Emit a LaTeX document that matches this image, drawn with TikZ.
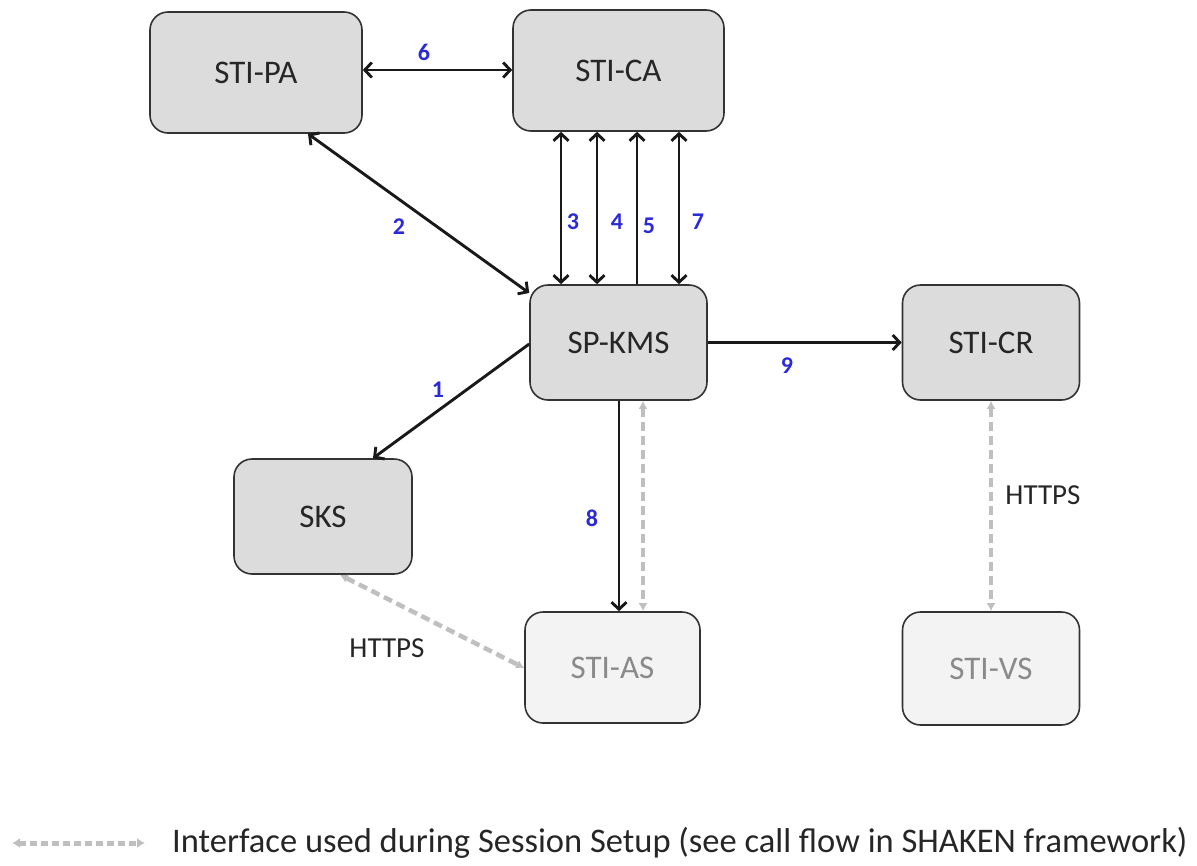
\documentclass[tikz,border=0pt]{standalone}
\usepackage{fontspec}
\setmainfont{Carlito}
\usetikzlibrary{arrows.meta}
\definecolor{boxfill}{HTML}{DCDCDC}
\definecolor{lightfill}{HTML}{F3F3F3}
\definecolor{boxline}{HTML}{333333}
\definecolor{lighttext}{HTML}{8A8A8A}
\definecolor{dashgray}{HTML}{BFBFBF}
\definecolor{numblue}{HTML}{2A2AD8}
\tikzset{
  mainbox/.style={draw=boxline, line width=1.6pt, fill=boxfill, rounded corners=18pt,
    inner sep=0pt, font=\fontsize{33}{36}\selectfont, text=black!85},
  lightbox/.style={mainbox, fill=lightfill, text=lighttext},
  blackarrow/.style={line width=2.9pt, draw=black!90},
  bothtips/.style={{Straight Barb[length=7pt,width=15pt,line width=2.9pt]}-{Straight Barb[length=7pt,width=15pt,line width=2.9pt]}},
  endtip/.style={-{Straight Barb[length=7pt,width=15pt,line width=2.9pt]}},
  grayarrow/.style={line width=4.5pt, draw=dashgray, dash pattern=on 9pt off 5pt,
    {Latex[length=8pt,width=9pt]}-{Latex[length=8pt,width=9pt]}},
  numlabel/.style={font=\fontsize{24}{26}\selectfont\bfseries, text=numblue, inner sep=0pt},
  httpslabel/.style={font=\fontsize{29}{32}\selectfont, text=black!85, inner sep=0pt},
}
\begin{document}
\begin{tikzpicture}[x=1pt, y=-1pt]
\useasboundingbox (0,0) rectangle (1197,865);

% boxes
\node[mainbox, minimum width=212pt, minimum height=121pt] (pa) at (256,72.5) {STI-PA};
\node[mainbox, minimum width=211pt, minimum height=121pt] (ca) at (618.5,70.5) {STI-CA};
\node[mainbox, minimum width=177pt, minimum height=115pt] (kms) at (618.5,342.5) {SP-KMS};
\node[mainbox, minimum width=177pt, minimum height=115pt] (cr) at (991,342.5) {STI-CR};
\node[mainbox, minimum width=178pt, minimum height=115pt] (sks) at (323,516.5) {SKS};
\node[lightbox, minimum width=175pt, minimum height=111pt] (as) at (612.5,667.5) {STI-AS};
\node[lightbox, minimum width=177pt, minimum height=113pt] (vs) at (991,668.5) {STI-VS};

% black connectors
\draw[blackarrow, bothtips] (pa.east |- 0,70) -- (ca.west |- 0,70);
\draw[blackarrow, bothtips] (pa.south -| 308,0) -- (kms.west |- 0,293);
\draw[blackarrow, bothtips] (ca.south -| 561,0) -- (kms.north -| 561,0);
\draw[blackarrow, bothtips] (ca.south -| 597,0) -- (kms.north -| 597,0);
\draw[blackarrow, endtip] (kms.north -| 637,0) -- (ca.south -| 637,0);
\draw[blackarrow, bothtips] (ca.south -| 679,0) -- (kms.north -| 679,0);
\draw[blackarrow, endtip] (kms.east) -- (cr.west);
\draw[blackarrow, endtip] (kms.west |- 0,344) -- (sks.north -| 373,0);
\draw[blackarrow, endtip] (kms.south -| 619,0) -- (as.north -| 619,0);

% gray dashed connectors
\draw[grayarrow] (kms.south -| 643,0) -- (as.north -| 643,0);
\draw[grayarrow] (sks.south -| 340,0) -- (as.west |- 0,668);
\draw[grayarrow] (cr.south) -- (vs.north);

% number labels
\node[numlabel] (n6) at (424,52) {6};
\node[numlabel] (n2) at (399,227) {2};
\node[numlabel] (n3) at (573,222) {3};
\node[numlabel] (n4) at (617,222) {4};
\node[numlabel] (n5) at (649,226) {5};
\node[numlabel] (n7) at (698,222) {7};
\node[numlabel] (n9) at (787,366) {9};
\node[numlabel] (n1) at (438,390) {1};
\node[numlabel] (n8) at (592,518) {8};

% https labels
\node[httpslabel] (h1) at (387,648) {HTTPS};
\node[httpslabel] (h2) at (1043,495) {HTTPS};

% legend
\coordinate (legA) at (12,843);
\coordinate (legB) at (145,843);
\draw[line width=5pt, draw=dashgray, dash pattern=on 7pt off 4pt,
  {Latex[length=8pt,width=10pt]}-{Latex[length=8pt,width=10pt]}] (legA) -- (legB);
\node[anchor=west, inner sep=0pt, font=\fontsize{34.5}{38}\selectfont, text=black!85] (legtext) at (172,843)
  {Interface used during Session Setup (see call flow in SHAKEN framework)};
\end{tikzpicture}
\end{document}
